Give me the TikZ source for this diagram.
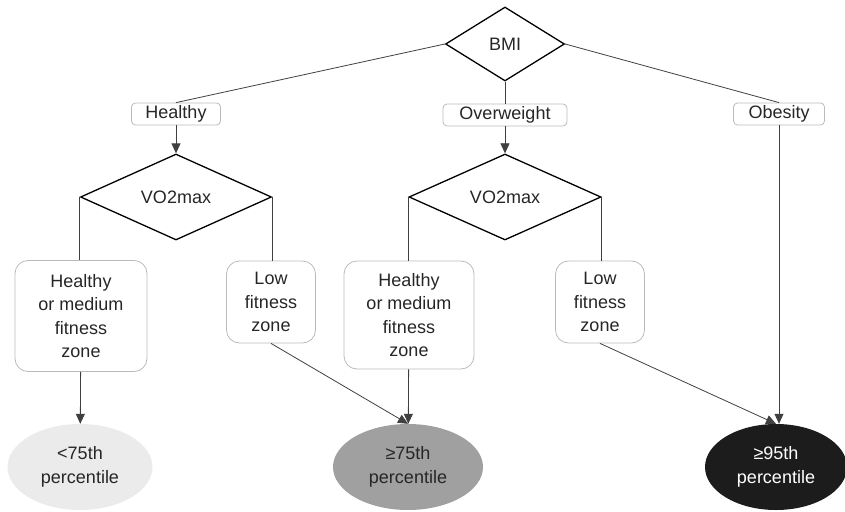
\documentclass[tikz,border=0pt]{standalone}
\usepackage{fontspec}
\setmainfont{Liberation Sans}
\usetikzlibrary{shapes.geometric,arrows.meta}
\definecolor{txt}{HTML}{262626}
\definecolor{edge}{HTML}{404040}
\definecolor{frame}{HTML}{BBBBBB}
\definecolor{lowfill}{HTML}{EBEBEB}
\definecolor{midfill}{HTML}{A0A0A0}
\definecolor{highfill}{HTML}{1C1C1C}

\begin{document}
\begin{tikzpicture}[x=1pt,y=-1pt]
      \useasboundingbox(0,0) rectangle (845,511);
      \tikzset{T/.style = {font=\fontsize{18}{23.5}\selectfont, text=txt, align=center}}
      \tikzset{D/.style = {T, shape=diamond, draw=black, line width=1.3pt, inner sep=0pt}}
      \tikzset{B/.style = {T, shape=rectangle, draw=frame, line width=0.8pt, rounded corners=4pt, inner sep=0pt}}
      \tikzset{Z/.style = {B, rounded corners=13pt}}
      \tikzset{P/.style = {T, shape=ellipse, draw=none, inner sep=0pt, minimum width=145pt, minimum height=86pt}}
      \tikzset{L/.style = {draw=edge, line width=0.8pt}}
      \tikzset{E/.style = {L, -{Triangle[width=9pt,length=10pt]}}}
      \node[D, minimum width=119pt, minimum height=74pt](bmi) at (505,44) {BMI};
      \node[B, minimum width=89pt, minimum height=22pt](healthy) at (176,114) {Healthy};
      \node[B, minimum width=124pt, minimum height=22pt](over) at (505,115) {Overweight};
      \node[B, minimum width=91pt, minimum height=22pt](obese) at (779,114) {Obesity};
      \node[D, minimum width=191pt, minimum height=86pt](vo1) at (176,197) {VO2max};
      \node[D, minimum width=192pt, minimum height=86pt](vo2) at (505,197) {VO2max};
      \node[Z, minimum width=132pt, minimum height=111pt](hm1) at (81,316) {Healthy\\or medium\\fitness\\zone};
      \node[Z, minimum width=89pt, minimum height=82pt](lf1) at (271,302) {Low\\fitness\\zone};
      \node[Z, minimum width=130pt, minimum height=108pt](hm2) at (409,315) {Healthy\\or medium\\fitness\\zone};
      \node[Z, minimum width=89pt, minimum height=82pt](lf2) at (600,302) {Low\\fitness\\zone};
      \node[P, fill=lowfill](p75a) at (80,467) {<75th\\percentile};
      \node[P, fill=midfill, minimum width=150pt](p75b) at (408,467) {≥75th\\percentile};
      \node[P, fill=highfill, text=white, minimum width=142pt](p95) at (776,467) {≥95th\\percentile};
      \draw[L](bmi.west) to (healthy.north);
      \draw[L](bmi.south) to (over.north);
      \draw[L](bmi.east) to (obese.north);
      \draw[E](healthy) to (vo1);
      \draw[E](over) to (vo2);
      \draw[L](vo1.west) to (vo1.west |- hm1.north);
      \draw[L](vo1.east) to (vo1.east |- lf1.north);
      \draw[L](vo2.west) to (vo2.west |- hm2.north);
      \draw[L](vo2.east) to (vo2.east |- lf2.north);
      \draw[E](hm1) to (p75a);
      \draw[E](lf1.south) to (p75b.north);
      \draw[E](hm2) to (p75b);
      \draw[E](lf2.south) to (p95.north);
      \draw[E](obese.south) to (obese.south |- p95.north);
    \end{tikzpicture}
\end{document}
